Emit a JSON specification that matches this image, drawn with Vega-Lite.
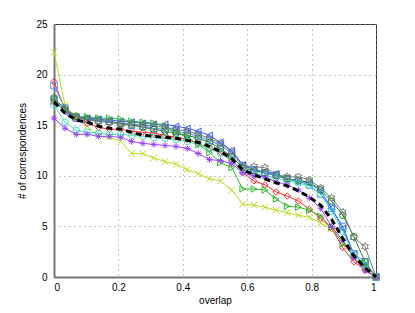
{
  "$schema": "https://vega.github.io/schema/vega-lite/v6.json",
  "autosize": {"type": "none"},
  "padding": {"left": 54, "top": 24, "right": 39, "bottom": 36},
  "width": 322,
  "height": 253,
  "background": "white",
  "config": {
    "view": {"stroke": "#333333", "strokeWidth": 1},
    "font": "Liberation Sans",
    "axis": {
      "labelFont": "Liberation Sans", "titleFont": "Liberation Sans",
      "labelFontSize": 10, "titleFontSize": 10, "titleFontWeight": "normal",
      "labelColor": "black", "titleColor": "black",
      "gridColor": "#888888", "gridDash": [1, 4], "gridOpacity": 1,
      "domainColor": "#777777", "domainWidth": 2, "ticks": false
    }
  },
  "data": {
    "values": [
      {"x": 0, "A": 22.2, "B": 19.3, "C": 18.9, "D": 17.6, "E": 17.6, "F": 17.7, "G": 17.0, "H": 15.7, "I": 17.3, "J": 17.3},
      {"x": 0.034, "A": 17.0, "B": 16.6, "C": 16.7, "D": 16.3, "E": 16.6, "F": 16.6, "G": 15.3, "H": 14.7, "I": 16.5, "J": 16.2},
      {"x": 0.069, "A": 15.8, "B": 15.6, "C": 15.7, "D": 15.8, "E": 15.8, "F": 15.9, "G": 14.5, "H": 14.1, "I": 15.8, "J": 15.5},
      {"x": 0.103, "A": 14.9, "B": 15.2, "C": 15.6, "D": 15.7, "E": 15.85, "F": 15.6, "G": 14.3, "H": 14.1, "I": 15.5, "J": 15.3},
      {"x": 0.138, "A": 13.9, "B": 14.8, "C": 15.5, "D": 15.6, "E": 15.7, "F": 15.4, "G": 14.2, "H": 13.9, "I": 15.4, "J": 14.9},
      {"x": 0.172, "A": 13.8, "B": 14.6, "C": 15.4, "D": 15.5, "E": 15.7, "F": 15.3, "G": 14.1, "H": 13.9, "I": 15.3, "J": 14.7},
      {"x": 0.207, "A": 13.4, "B": 14.6, "C": 15.2, "D": 15.4, "E": 15.6, "F": 15.1, "G": 14.1, "H": 13.8, "I": 15.2, "J": 14.6},
      {"x": 0.241, "A": 12.2, "B": 14.4, "C": 15.0, "D": 15.3, "E": 15.4, "F": 15.0, "G": 14.0, "H": 13.4, "I": 15.1, "J": 14.3},
      {"x": 0.276, "A": 12.2, "B": 14.3, "C": 14.9, "D": 15.2, "E": 15.3, "F": 14.8, "G": 13.9, "H": 13.2, "I": 15.0, "J": 14.0},
      {"x": 0.310, "A": 11.75, "B": 14.2, "C": 14.7, "D": 15.1, "E": 15.2, "F": 14.6, "G": 13.8, "H": 13.1, "I": 14.9, "J": 13.9},
      {"x": 0.345, "A": 11.4, "B": 14.0, "C": 14.6, "D": 15.1, "E": 14.9, "F": 14.4, "G": 13.7, "H": 13.0, "I": 14.8, "J": 13.8},
      {"x": 0.379, "A": 11.15, "B": 13.8, "C": 14.4, "D": 14.9, "E": 14.3, "F": 14.2, "G": 13.6, "H": 12.9, "I": 14.6, "J": 13.7},
      {"x": 0.414, "A": 10.6, "B": 13.6, "C": 14.2, "D": 14.7, "E": 13.8, "F": 14.0, "G": 13.4, "H": 12.7, "I": 14.4, "J": 13.5},
      {"x": 0.448, "A": 10.2, "B": 13.2, "C": 13.9, "D": 14.4, "E": 13.1, "F": 13.7, "G": 13.1, "H": 12.2, "I": 14.1, "J": 13.3},
      {"x": 0.483, "A": 9.7, "B": 12.7, "C": 13.5, "D": 14.0, "E": 12.3, "F": 13.3, "G": 12.7, "H": 11.6, "I": 13.7, "J": 12.9},
      {"x": 0.517, "A": 9.5, "B": 12.3, "C": 13.0, "D": 13.3, "E": 11.3, "F": 12.7, "G": 12.2, "H": 11.5, "I": 13.2, "J": 12.4},
      {"x": 0.552, "A": 8.6, "B": 11.6, "C": 12.2, "D": 12.5, "E": 10.8, "F": 11.9, "G": 11.5, "H": 11.2, "I": 12.4, "J": 11.7},
      {"x": 0.586, "A": 7.2, "B": 10.3, "C": 11.0, "D": 11.1, "E": 8.7, "F": 10.8, "G": 10.6, "H": 10.3, "I": 11.0, "J": 10.6},
      {"x": 0.621, "A": 7.1, "B": 9.5, "C": 10.6, "D": 10.6, "E": 8.7, "F": 10.5, "G": 10.2, "H": 10.0, "I": 10.9, "J": 10.1},
      {"x": 0.655, "A": 6.9, "B": 9.1, "C": 10.3, "D": 10.4, "E": 8.6, "F": 10.3, "G": 10.0, "H": 9.9, "I": 10.8, "J": 9.7},
      {"x": 0.690, "A": 6.6, "B": 8.4, "C": 10.1, "D": 10.2, "E": 7.7, "F": 10.0, "G": 9.8, "H": 9.4, "I": 10.1, "J": 9.3},
      {"x": 0.724, "A": 6.35, "B": 8.0, "C": 9.7, "D": 9.7, "E": 7.0, "F": 9.7, "G": 9.5, "H": 9.1, "I": 9.9, "J": 9.0},
      {"x": 0.759, "A": 6.1, "B": 7.5, "C": 9.5, "D": 9.5, "E": 6.9, "F": 9.5, "G": 9.3, "H": 8.6, "I": 9.9, "J": 8.5},
      {"x": 0.793, "A": 5.9, "B": 6.7, "C": 9.1, "D": 9.3, "E": 6.6, "F": 9.4, "G": 9.0, "H": 7.8, "I": 9.6, "J": 7.9},
      {"x": 0.828, "A": 5.3, "B": 5.8, "C": 8.2, "D": 8.5, "E": 6.0, "F": 8.6, "G": 8.2, "H": 6.8, "I": 8.8, "J": 7.1},
      {"x": 0.862, "A": 4.8, "B": 4.8, "C": 6.8, "D": 6.8, "E": 4.9, "F": 7.5, "G": 6.5, "H": 5.0, "I": 7.8, "J": 5.7},
      {"x": 0.897, "A": 3.4, "B": 2.9, "C": 5.0, "D": 4.8, "E": 3.3, "F": 6.1, "G": 4.5, "H": 3.6, "I": 6.4, "J": 3.8},
      {"x": 0.931, "A": 2.0, "B": 1.5, "C": 2.3, "D": 2.2, "E": 2.1, "F": 4.0, "G": 2.2, "H": 1.9, "I": 3.9, "J": 2.1},
      {"x": 0.966, "A": 1.0, "B": 0.7, "C": 1.5, "D": 1.2, "E": 1.3, "F": 1.5, "G": 1.2, "H": 0.6, "I": 3.0, "J": 0.9},
      {"x": 1, "A": 0, "B": 0, "C": 0, "D": 0, "E": 0, "F": 0, "G": 0, "H": 0, "I": 0, "J": 0}
    ]
  },
  "transform": [
    {"fold": ["A", "B", "C", "D", "E", "F", "G", "H", "I", "J"], "as": ["s", "y"]}
  ],
  "encoding": {
    "x": {"field": "x", "type": "quantitative",
      "scale": {"domain": [0, 1], "nice": false},
      "axis": {"title": "overlap", "values": [0, 0.2, 0.4, 0.6, 0.8, 1], "format": "~g", "labelPadding": 5, "titlePadding": 3}},
    "y": {"field": "y", "type": "quantitative",
      "scale": {"domain": [0, 25], "nice": false},
      "axis": {"title": "# of correspondences", "values": [0, 5, 10, 15, 20, 25], "labelPadding": 7, "titlePadding": 8}}
  },
  "layer": [
    {
      "transform": [{"filter": "datum.s !== 'J'"}],
      "mark": {"type": "line", "strokeWidth": 1, "clip": true},
      "encoding": {
        "color": {"field": "s", "type": "nominal", "legend": null,
          "scale": {"domain": ["A", "B", "C", "D", "E", "F", "G", "H", "I"],
            "range": ["#b8dc1e", "#ff2a2a", "#5b8cff", "#3a5cff", "#2cb82c", "#1e8c1e", "#40e0b8", "#a040ff", "#7a7a7a"]}}
      }
    },
    {
      "transform": [{"filter": "datum.s !== 'J'"}],
      "mark": {"type": "point", "filled": false, "strokeWidth": 1, "size": 42, "opacity": 1},
      "encoding": {
        "color": {"field": "s", "type": "nominal", "legend": null,
          "scale": {"domain": ["A", "B", "C", "D", "E", "F", "G", "H", "I"],
            "range": ["#b8dc1e", "#ff2a2a", "#5b8cff", "#3a5cff", "#2cb82c", "#1e8c1e", "#40e0b8", "#a040ff", "#7a7a7a"]}},
        "shape": {"field": "s", "type": "nominal", "legend": null,
          "scale": {"domain": ["A", "B", "C", "D", "E", "F", "G", "H", "I"],
            "range": ["M-1,-1L1,1M-1,1L1,-1", "diamond", "square", "triangle-left", "triangle-right", "circle", "circle", "M-1,0L1,0M0,-1L0,1M-0.7,-0.7L0.7,0.7M-0.7,0.7L0.7,-0.7", "M0,-1.2L0.35,-0.6L1.04,-0.6L0.69,0L1.04,0.6L0.35,0.6L0,1.2L-0.35,0.6L-1.04,0.6L-0.69,0L-1.04,-0.6L-0.35,-0.6Z"]}}
      }
    },
    {
      "transform": [{"filter": "datum.s === 'J'"}],
      "mark": {"type": "line", "color": "black", "strokeWidth": 3, "strokeDash": [6, 4]},
      "encoding": {}
    }
  ]
}
